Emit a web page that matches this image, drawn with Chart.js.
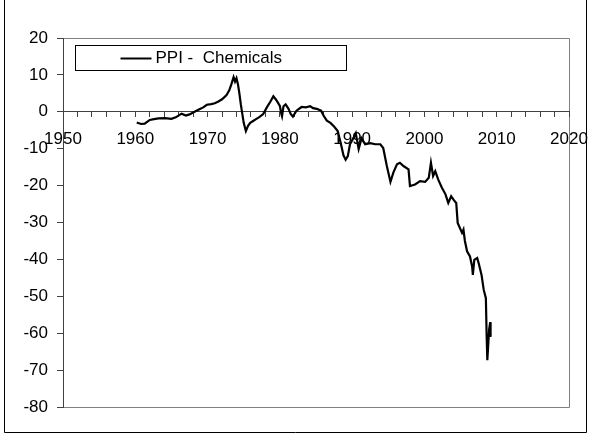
<!DOCTYPE html>
<html>
<head>
<meta charset="utf-8">
<script src="https://cdn.jsdelivr.net/npm/chart.js@4/dist/chart.umd.min.js"></script>
<style>
  body { margin: 0; background: #fff; }
  #wrap { width: 590px; height: 443px; }
</style>
</head>
<body>
<div id="wrap"><canvas id="myChart" width="590" height="443"></canvas></div>
<script>
const seriesLabel = 'PPI -  Chemicals';

// roughly quarterly
const years = [
  1960.2, 1960.8, 1961.3, 1962.0, 1962.6, 1963.2, 1964.1, 1965.0, 1965.6, 1966.4,
  1967.0, 1967.5, 1968.2, 1968.8, 1969.4, 1969.9, 1970.5, 1971.0, 1971.5, 1972.0,
  1972.6, 1973.0, 1973.3, 1973.6, 1973.8, 1974.0, 1974.2, 1974.4, 1974.6, 1974.8,
  1975.0, 1975.3, 1975.6, 1975.9, 1976.3, 1976.7, 1977.1, 1977.7, 1978.2, 1978.7,
  1979.1, 1979.5, 1980.0, 1980.2, 1980.3, 1980.5, 1980.8, 1981.2, 1981.5, 1981.8,
  1982.3, 1983.0, 1983.6, 1984.2, 1984.6, 1985.1, 1985.7, 1986.1, 1986.5, 1987.0,
  1987.5, 1988.0, 1988.4, 1988.8, 1989.1, 1989.4, 1989.7, 1990.2, 1990.5, 1990.9,
  1991.3, 1991.8, 1992.5, 1993.2, 1993.9, 1994.3, 1994.8, 1995.3, 1995.7, 1996.2,
  1996.6, 1997.1, 1997.8, 1998.0, 1998.7, 1999.4, 2000.1, 2000.6, 2000.9, 2001.2,
  2001.5, 2001.9, 2002.4, 2002.9, 2003.3, 2003.7, 2004.1, 2004.4, 2004.6, 2005.2,
  2005.4, 2005.6, 2005.9, 2006.3, 2006.6, 2006.7, 2006.9, 2007.3, 2007.5, 2007.9,
  2008.2, 2008.5, 2008.6, 2008.7, 2008.8, 2008.95, 2009.1, 2009.15
];
const values = [
  -2.9, -3.3, -3.2, -2.2, -2.0, -1.8, -1.7, -1.9, -1.5, -0.5,
  -1.0, -0.7, 0.0, 0.6, 1.2, 1.9, 2.1, 2.3, 2.8, 3.4,
  4.5, 5.8, 7.5, 9.4, 8.2, 9.1, 7.5, 5.0, 2.0, -0.5,
  -3.0, -5.2, -3.8, -3.0, -2.5, -2.0, -1.5, -0.6, 1.2, 2.8,
  4.2, 3.2, 1.6, -0.5, -1.2, 1.5, 2.0, 0.8, -0.6, -1.3,
  0.3, 1.3, 1.2, 1.5, 1.0, 0.8, 0.3, -1.2, -2.4, -3.0,
  -4.0, -5.2, -8.3, -11.8, -13.0, -12.0, -8.8, -7.0, -5.8, -10.1,
  -7.2, -8.8, -8.5, -8.8, -8.8, -9.8, -14.7, -19.0, -16.5, -14.2,
  -13.8, -14.7, -15.6, -20.1, -19.7, -18.8, -19.0, -17.9, -13.8, -17.4,
  -16.1, -18.3, -20.5, -22.3, -24.7, -22.9, -24.0, -24.7, -30.1, -32.8,
  -31.9, -35.0, -37.8, -39.2, -41.9, -44.2, -40.1, -39.6, -41.0, -44.2,
  -48.2, -50.5, -60.0, -67.3, -64.0, -59.0, -57.0, -61.0
];

const xMin = 1950, xMax = 2020, xStep = 2, xLabelEvery = 10;
const yMin = -80, yMax = 20, yStep = 10;

const tickFont = { family: "'Liberation Sans', Arial, sans-serif", size: 17 };

// frame round the whole chart, border of the plot area, and the boxed legend
const framePlugin = {
  id: 'frame',
  beforeDraw: (chart) => {
    const ctx = chart.ctx;
    const a = chart.chartArea;
    ctx.save();
    ctx.fillStyle = '#fff';
    ctx.fillRect(0, 0, chart.width, chart.height);
    ctx.strokeStyle = '#000';
    ctx.lineWidth = 1;
    ctx.beginPath();
    ctx.moveTo(4.5, 0);
    ctx.lineTo(4.5, 432.5);
    ctx.lineTo(586.5, 432.5);
    ctx.lineTo(586.5, 0);
    ctx.stroke();
    ctx.strokeStyle = '#808080';
    ctx.beginPath();
    ctx.moveTo(a.left, Math.round(a.top) + 0.5);
    ctx.lineTo(Math.round(a.right) + 0.5, Math.round(a.top) + 0.5);
    ctx.lineTo(Math.round(a.right) + 0.5, Math.round(a.bottom) + 0.5);
    ctx.lineTo(a.left, Math.round(a.bottom) + 0.5);
    ctx.stroke();
    ctx.restore();
  },
  afterDraw: (chart) => {
    const ctx = chart.ctx;
    const a = chart.chartArea;
    const bx = Math.round(a.left) + 12.5, by = Math.round(a.top) + 7.5;
    ctx.save();
    ctx.fillStyle = '#fff';
    ctx.fillRect(bx, by, 271, 25);
    ctx.strokeStyle = '#000';
    ctx.lineWidth = 1;
    ctx.strokeRect(bx, by, 271, 25);
    ctx.lineWidth = 2;
    ctx.beginPath();
    ctx.moveTo(bx + 45, by + 13);
    ctx.lineTo(bx + 76, by + 13);
    ctx.stroke();
    ctx.fillStyle = '#000';
    ctx.font = "17px 'Liberation Sans', Arial, sans-serif";
    ctx.textBaseline = 'middle';
    ctx.fillText(chart.data.datasets[0].label, bx + 80, by + 13);
    ctx.restore();
  }
};

const ctx = document.getElementById('myChart');
const myChart = new Chart(ctx, {
  type: 'line',
  data: {
    datasets: [{
      label: seriesLabel,
      data: years.map((y, i) => ({ x: y, y: values[i] })),
      borderColor: '#000',
      borderWidth: 2.2,
      pointRadius: 0,
      fill: false,
      tension: 0
    }]
  },
  options: {
    responsive: false,
    animation: false,
    devicePixelRatio: 1,
    layout: { padding: { left: 0, top: 38, right: 21, bottom: 36 } },
    plugins: {
      legend: { display: false },
      tooltip: { enabled: false }
    },
    scales: {
      x: {
        type: 'linear',
        min: xMin,
        max: xMax,
        position: { y: 0 },
        afterFit: (scale) => { scale.paddingLeft = 0; scale.paddingRight = 0; },
        grid: { drawOnChartArea: false, tickLength: 5, tickColor: '#404040' },
        border: { color: '#404040', width: 1 },
        ticks: {
          stepSize: xStep,
          autoSkip: false,
          maxRotation: 0,
          padding: 12,
          color: '#000',
          font: tickFont,
          callback: (v) => (v % xLabelEvery === 0 ? String(v) : '')
        }
      },
      y: {
        min: yMin,
        max: yMax,
        position: 'left',
        afterFit: (scale) => { scale.width = 63; scale.paddingTop = 0; scale.paddingBottom = 0; },
        grid: { drawOnChartArea: false, tickLength: 6, tickColor: '#404040' },
        border: { color: '#404040', width: 1 },
        ticks: { stepSize: yStep, padding: 9, color: '#000', font: tickFont }
      }
    }
  },
  plugins: [framePlugin]
});
</script>
</body>
</html>
